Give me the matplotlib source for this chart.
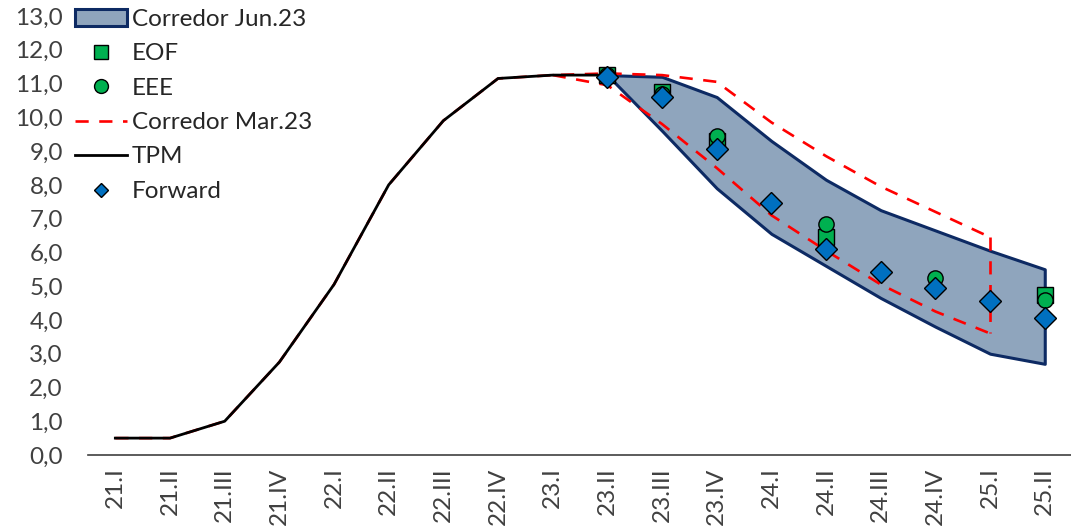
import matplotlib
matplotlib.use("Agg")
import matplotlib.pyplot as plt
from matplotlib.lines import Line2D
from matplotlib.patches import Patch
import numpy as np

plt.rcParams['font.family'] = ['Lato', 'DejaVu Sans']

quarters = ['21.I', '21.II', '21.III', '21.IV', '22.I', '22.II', '22.III', '22.IV',
            '23.I', '23.II', '23.III', '23.IV', '24.I', '24.II', '24.III', '24.IV',
            '25.I', '25.II']

# TPM history (21.I .. 23.II)
tpm = [0.5, 0.5, 1.0, 2.75, 5.05, 8.0, 9.9, 11.15, 11.25, 11.25]

# Corredor Jun.23 (23.II .. 25.II)
jun_upper = [11.25, 11.2, 10.6, 9.3, 8.15, 7.25, 6.65, 6.05, 5.5]
jun_lower = [11.25, 9.6, 7.9, 6.55, 5.6, 4.65, 3.8, 3.0, 2.7]

# Corredor Mar.23 (23.I .. 25.I), history follows the TPM
mar_upper = [11.25, 11.3, 11.25, 11.05, 9.85, 8.85, 7.95, 7.2, 6.45]
mar_lower = [11.25, 10.95, 9.8, 8.5, 7.1, 6.05, 5.05, 4.25, 3.6]

# surveys and forward
eof_q = ['23.II', '23.III', '23.IV', '24.II', '25.II']
eof = [11.25, 10.75, 9.3, 6.45, 4.75]
eee_q = ['23.II', '23.III', '23.IV', '24.II', '24.IV', '25.II']
eee = [11.25, 10.7, 9.45, 6.85, 5.25, 4.6]
fwd_q = ['23.II', '23.III', '23.IV', '24.I', '24.II', '24.III', '24.IV', '25.I', '25.II']
fwd = [11.2, 10.6, 9.05, 7.45, 6.1, 5.42, 4.95, 4.57, 4.05]

pos = {q: i for i, q in enumerate(quarters)}
x = np.arange(len(quarters))

fill_col = '#8FA5BD'
navy = '#0D2A63'
red = '#FF0000'
green = '#00B050'
blue = '#0070C0'
fs = 17.5

fig = plt.figure(figsize=(10.71, 5.27), dpi=100)
ax = fig.add_axes([88 / 1071, 72 / 527, 983 / 1071, 439 / 527])

xj = x[pos['23.II']:]
ax.fill_between(xj, jun_lower, jun_upper, facecolor=fill_col, edgecolor=navy,
                linewidth=2.2, zorder=1)

xm = x[pos['23.I']:pos['25.I'] + 1]
xh = x[:pos['23.I'] + 1]
mar_kw = dict(color=red, linewidth=1.9, dashes=(5, 4), zorder=2)
ax.plot(np.concatenate([xh, xm[1:]]), tpm[:len(xh)] + mar_upper[1:], **mar_kw)
ax.plot(xm, mar_lower, **mar_kw)
ax.plot([xm[-1], xm[-1]], [mar_upper[-1], mar_lower[-1]], **mar_kw)

ax.plot(x[:len(tpm)], tpm, color='black', linewidth=2.0, zorder=3)

ax.plot([pos[q] for q in eof_q], eof, linestyle='none', marker='s', markersize=11,
        markerfacecolor=green, markeredgecolor='black', markeredgewidth=1.0, zorder=4)
ax.plot([pos[q] for q in eee_q], eee, linestyle='none', marker='o', markersize=11,
        markerfacecolor=green, markeredgecolor='black', markeredgewidth=1.0, zorder=5)
ax.plot([pos[q] for q in fwd_q], fwd, linestyle='none', marker='D', markersize=11,
        markerfacecolor=blue, markeredgecolor='black', markeredgewidth=1.0, zorder=6)

ax.set_xlim(-0.5, len(quarters) - 0.52)
ax.set_ylim(0, 13)
ax.set_yticks(np.arange(0, 14, 1))
ax.set_yticklabels([f'{v:.1f}'.replace('.', ',') for v in np.arange(0, 14, 1)])
ax.set_xticks(x)
ax.set_xticklabels(quarters, rotation=90)
ax.tick_params(axis='both', length=0, labelsize=fs, colors='#404040')
ax.tick_params(axis='y', pad=18)
ax.tick_params(axis='x', pad=9)
for s in ['top', 'right', 'left']:
    ax.spines[s].set_visible(False)
ax.spines['bottom'].set_color('#404040')
ax.spines['bottom'].set_linewidth(1.2)
ax.patch.set_alpha(0)

handles = [
    Patch(facecolor=fill_col, edgecolor=navy, linewidth=2.2),
    Line2D([], [], linestyle='none', marker='s', markersize=10, markerfacecolor=green,
           markeredgecolor='black'),
    Line2D([], [], linestyle='none', marker='o', markersize=10, markerfacecolor=green,
           markeredgecolor='black'),
    Line2D([], [], color=red, linewidth=1.9, dashes=(5, 4)),
    Line2D([], [], color='black', linewidth=2.0),
    Line2D([], [], linestyle='none', marker='D', markersize=7, markerfacecolor=blue,
           markeredgecolor='black'),
]
labels = ['Corredor Jun.23', 'EOF', 'EEE', 'Corredor Mar.23', 'TPM', 'Forward']
fig.legend(handles, labels, loc='upper left', bbox_to_anchor=(75 / 1071, 1 - 9 / 527),
           frameon=False, fontsize=fs, handlelength=2.15, handleheight=0.65,
           handletextpad=0.2, labelspacing=0.55, borderpad=0, borderaxespad=0,
           labelcolor='#262626')

fig.savefig('out.png', dpi=100)
